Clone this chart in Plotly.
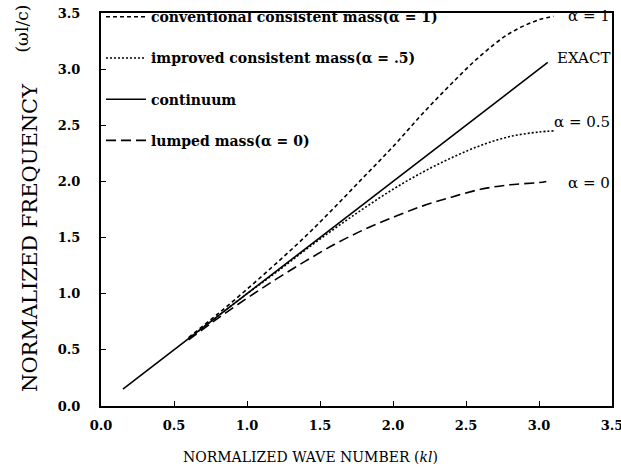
import plotly.graph_objects as go

# Data
conv_x = [0.6, 0.8, 1.0, 1.2, 1.4, 1.6, 1.8, 2.0, 2.2, 2.4, 2.6, 2.8, 3.0, 3.1]
conv_y = [0.61, 0.82, 1.04, 1.27, 1.51, 1.77, 2.04, 2.31, 2.60, 2.87, 3.12, 3.32, 3.44, 3.47]

impr_x = [0.6, 0.8, 1.0, 1.2, 1.4, 1.6, 1.8, 2.0, 2.2, 2.4, 2.6, 2.8, 3.0, 3.1]
impr_y = [0.60, 0.80, 1.00, 1.19, 1.39, 1.58, 1.76, 1.93, 2.08, 2.21, 2.32, 2.40, 2.44, 2.45]

cont_x = [0.15, 3.06]
cont_y = [0.15, 3.06]

lump_x = [0.6, 0.8, 1.0, 1.2, 1.4, 1.6, 1.8, 2.0, 2.2, 2.4, 2.6, 2.8, 3.0, 3.05]
lump_y = [0.59, 0.78, 0.96, 1.13, 1.29, 1.44, 1.57, 1.68, 1.78, 1.86, 1.93, 1.97, 1.99, 2.0]

series_names = ["conventional consistent mass(α = 1)",
                "improved consistent mass(α = .5)",
                "continuum",
                "lumped mass(α = 0)"]
curve_labels = ["α = 1", "EXACT", "α = 0.5", "α = 0"]
label_y = [3.47, 3.10, 2.53, 1.99]

tick_vals = [0.0, 0.5, 1.0, 1.5, 2.0, 2.5, 3.0, 3.5]
tick_text = ["0.0", "0.5", "1.0", "1.5", "2.0", "2.5", "3.0", "3.5"]

FONT = "DejaVu Serif"

fig = go.Figure()
fig.add_trace(go.Scatter(x=conv_x, y=conv_y, mode="lines", name=series_names[0],
                         legendgroup="a", line=dict(color="black", width=1.6, dash="4px,3px", shape="spline")))
fig.add_trace(go.Scatter(x=impr_x, y=impr_y, mode="lines", name=series_names[1],
                         legendgroup="b", line=dict(color="black", width=1.6, dash="2px,2px", shape="spline")))
fig.add_trace(go.Scatter(x=cont_x, y=cont_y, mode="lines", name=series_names[2],
                         legendgroup="c", line=dict(color="black", width=1.6)))
fig.add_trace(go.Scatter(x=lump_x, y=lump_y, mode="lines", name=series_names[3],
                         legendgroup="d", line=dict(color="black", width=1.6, dash="10px,5px", shape="spline")))

for t, yv in zip(curve_labels, label_y):
    fig.add_annotation(x=3.5, y=yv, xref="x", yref="y", text=t, showarrow=False,
                       xanchor="right", yanchor="middle",
                       font=dict(family=FONT, size=15, color="black"))

fig.add_annotation(x=-0.139, y=0.43, xref="paper", yref="paper", xanchor="center", yanchor="middle",
                   text="NORMALIZED FREQUENCY", textangle=-90, showarrow=False,
                   font=dict(family=FONT, size=21, color="black"))
fig.add_annotation(x=-0.155, y=0.96, xref="paper", yref="paper", xanchor="center", yanchor="middle",
                   text="(ωl/c)", textangle=-90, showarrow=False,
                   font=dict(family=FONT, size=17, color="black"))
fig.add_annotation(x=0.41, y=-0.105, xref="paper", yref="paper", xanchor="center", yanchor="top",
                   text="NORMALIZED WAVE NUMBER (<i>kl</i>)", showarrow=False,
                   font=dict(family=FONT, size=14, color="black"))

fig.update_layout(
    width=621, height=475,
    margin=dict(l=101, r=9, t=13, b=69, autoexpand=False),
    paper_bgcolor="white", plot_bgcolor="white",
    font=dict(family=FONT, color="black"),
    showlegend=True,
    legend=dict(x=0.0, y=1.03, xanchor="left", yanchor="top", bgcolor="rgba(0,0,0,0)",
                font=dict(family=FONT, size=14, color="black", weight="bold"), tracegroupgap=20,
                itemwidth=40),
    xaxis=dict(range=[0, 3.5], tickvals=tick_vals, ticktext=tick_text, ticks="inside",
               ticklen=5, tickcolor="black", showline=True, linecolor="black", linewidth=2,
               mirror=True, showgrid=False, zeroline=False, ticklabelstandoff=6,
               ticklabeloverflow="allow", automargin=False,
               tickfont=dict(family=FONT, size=13, color="black", weight="bold")),
    yaxis=dict(range=[0, 3.5], tickvals=tick_vals, ticktext=tick_text, ticks="inside",
               ticklen=5, tickcolor="black", showline=True, linecolor="black", linewidth=2,
               mirror=True, showgrid=False, zeroline=False, ticklabelstandoff=16,
               ticklabeloverflow="allow", automargin=False,
               tickfont=dict(family=FONT, size=13, color="black", weight="bold")),
)

fig.write_html("out.html")
